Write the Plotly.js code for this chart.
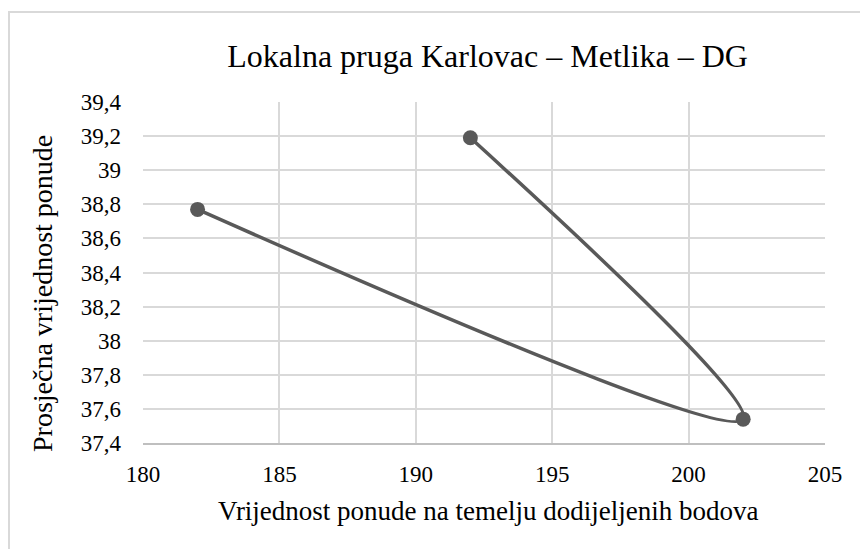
<!DOCTYPE html>
<html>
<head>
<meta charset="utf-8">
<script src="https://cdn.plot.ly/plotly-3.0.1.min.js"></script>
<style>
  html, body { margin: 0; padding: 0; background: #ffffff; }
  #chart { width: 860px; height: 549px; }
</style>
</head>
<body>
<div id="chart"></div>
<script>
// Offer value from awarded points (x) vs. average offer (y), in series order
const pointValues = [182, 202, 192];
const averageOffers = [38.77, 37.54, 39.19];

const chartTitle = 'Lokalna pruga Karlovac – Metlika – DG';
const xTitle = 'Vrijednost ponude na temelju dodijeljenih bodova';
const yTitle = 'Prosječna vrijednost ponude';

const serif = 'Liberation Serif';
const ink = '#000000';
const seriesColor = '#595959';
const gridColor = '#d9d9d9';

const trace = {
  type: 'scatter',
  mode: 'lines+markers',
  x: pointValues,
  y: averageOffers,
  line: { color: seriesColor, width: 3.5, shape: 'spline', smoothing: 0.8 },
  marker: { color: seriesColor, size: 15 },
  hoverinfo: 'x+y',
  showlegend: false
};

const layout = {
  width: 860,
  height: 549,
  margin: { l: 143, r: 35, t: 102, b: 106 },
  paper_bgcolor: '#ffffff',
  plot_bgcolor: '#ffffff',
  separators: ', ',
  font: { family: serif, color: ink, size: 23 },
  title: {
    text: chartTitle,
    font: { family: serif, size: 32, color: ink },
    x: 0.567, xanchor: 'center',
    y: 0.898, yanchor: 'middle'
  },
  xaxis: {
    range: [180, 205],
    dtick: 5,
    tick0: 180,
    showgrid: true,
    gridcolor: gridColor,
    gridwidth: 2,
    zeroline: false,
    showline: true,
    linecolor: '#bfbfbf',
    linewidth: 2,
    ticks: '',
    ticklabelstandoff: 9,
    tickfont: { family: serif, size: 23, color: ink }
  },
  yaxis: {
    range: [37.4, 39.4],
    dtick: 0.2,
    tick0: 37.4,
    showgrid: true,
    gridcolor: gridColor,
    gridwidth: 2,
    zeroline: false,
    showline: false,
    ticks: '',
    ticklabelstandoff: 21,
    tickfont: { family: serif, size: 23, color: ink }
  },
  annotations: [
    {
      text: xTitle,
      xref: 'paper', yref: 'paper',
      x: 0.507, y: -0.2,
      xanchor: 'center', yanchor: 'middle',
      showarrow: false,
      font: { family: serif, size: 27, color: ink }
    },
    {
      text: yTitle,
      xref: 'paper', yref: 'paper',
      x: -0.1466, y: 0.437,
      xanchor: 'center', yanchor: 'middle',
      textangle: -90,
      showarrow: false,
      font: { family: serif, size: 28, color: ink }
    }
  ],
  shapes: [{
    type: 'rect',
    xref: 'paper', yref: 'paper',
    x0: -0.1965, x1: 1.2,
    y0: -0.5, y1: 1.264,
    line: { color: '#d9d9d9', width: 2 },
    fillcolor: 'rgba(0,0,0,0)',
    layer: 'below'
  }]
};

Plotly.newPlot('chart', [trace], layout, { displayModeBar: false, staticPlot: true });
</script>
</body>
</html>
